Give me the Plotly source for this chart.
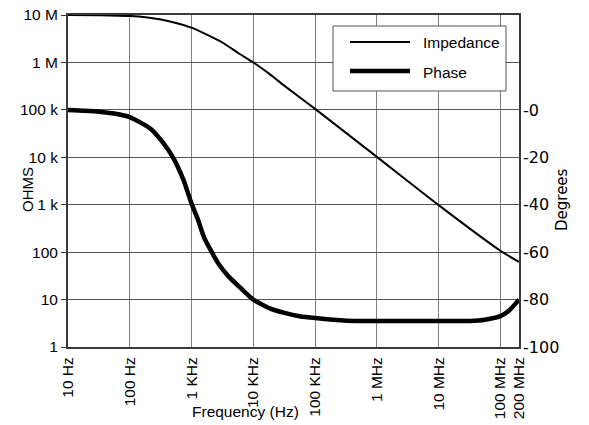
import plotly.graph_objects as go

# ---- data ----
imp_freq = [10, 32, 100, 180, 320, 560, 1000, 1800, 3200, 5600, 10000, 18000, 32000,
            1e5, 1e6, 1e7, 1e8, 2e8]
imp_ohms = [1e7, 9.9e6, 9.55e6, 9.0e6, 8.0e6, 6.8e6, 5.4e6, 3.8e6, 2.6e6, 1.6e6, 1.0e6,
            5.8e5, 3.2e5, 1.05e5, 1.02e4, 980, 107, 62]

ph_freq = [10, 18, 32, 56, 100, 215, 350, 500, 740, 1000, 1260, 1580, 2000, 2800, 4000,
           6300, 10000, 18000, 32000, 56000, 1e5, 3.2e5, 1e6, 1e7, 3.2e7, 5.6e7, 1e8, 1.4e8, 2e8]
ph_deg = [0, -0.3, -0.7, -1.5, -3, -7.8, -14, -20, -29.5, -39.5, -46, -53.5, -58.7, -65.3,
          -70.3, -75.2, -80, -83.6, -85.6, -87, -87.8, -88.9, -89, -89, -89, -88.5, -87, -84.5, -80]

x_tickvals = [10, 100, 1e3, 1e4, 1e5, 1e6, 1e7, 1e8, 2e8]
x_ticktext = ["10 Hz", "100 Hz", "1 KHz", "10 KHz", "100 KHz", "1 MHz", "10 MHz", "100 MHz", "200 MHz"]
y_tickvals = [1, 10, 100, 1e3, 1e4, 1e5, 1e6, 1e7]
y_ticktext = ["1", "10", "100", "1 k", "10 k", "100 k", "1 M", "10 M"]
y2_tickvals = [-100, -80, -60, -40, -20, 0]
y2_ticktext = ["-100", "-80", "-60", "-40", "-20", "-0"]
series_names = ["Impedance", "Phase"]

SANS = "Liberation Sans, Arial, sans-serif"
WIDE = "DejaVu Sans, Verdana, sans-serif"

fig = go.Figure()
fig.add_trace(go.Scatter(x=imp_freq, y=imp_ohms, mode="lines", name=series_names[0],
                         line=dict(color="black", width=2, shape="spline", smoothing=0.6),
                         showlegend=False))
fig.add_trace(go.Scatter(x=ph_freq, y=ph_deg, mode="lines", name=series_names[1], yaxis="y2",
                         line=dict(color="black", width=4.5, shape="spline", smoothing=0.5),
                         showlegend=False))

fig.update_layout(
    width=589, height=425,
    margin=dict(l=68, r=70, t=15, b=78),
    paper_bgcolor="white", plot_bgcolor="white",
    showlegend=False,
    font=dict(family=SANS, size=15.5, color="black"),
    xaxis=dict(type="log", range=[1, 8.30103], tickvals=x_tickvals, ticktext=x_ticktext,
               tickangle=-90, ticks="", showgrid=True, gridcolor="#808080", gridwidth=1,
               showline=True, linecolor="#3a3a3a", linewidth=2, mirror=True, zeroline=False,
               tickfont=dict(size=15.5, family=SANS), automargin=False, ticklabelstandoff=2),
    yaxis=dict(type="log", range=[0, 7], tickvals=y_tickvals, ticktext=y_ticktext,
               ticks="outside", ticklen=5, tickcolor="#3a3a3a", showgrid=True, gridcolor="#555",
               gridwidth=1, showline=True, linecolor="#3a3a3a", linewidth=2, mirror=True,
               zeroline=False, tickfont=dict(size=15.5, family=SANS), automargin=False,
               ticklabelstandoff=0),
    yaxis2=dict(overlaying="y", side="right", range=[-100, 40.08], tickvals=y2_tickvals,
                ticktext=y2_ticktext, ticks="", showgrid=False, zeroline=False,
                showline=False, tickfont=dict(size=16, family=WIDE), ticklabelstandoff=3,
                automargin=False),
)

def px2x(px):
    return (px - 68) / 451.0

def py2y(py):
    return (347 - py) / 332.0

annotations = [
    dict(text="OHMS", x=px2x(27), y=py2y(190), textangle=-90, font=dict(size=15, family=SANS)),
    dict(text="Degrees", x=px2x(562), y=py2y(200), textangle=-90, font=dict(size=15, family=WIDE)),
    dict(text="Frequency (Hz)", x=px2x(245), y=py2y(411), font=dict(size=15.5, family=SANS)),
    dict(text=series_names[0], x=px2x(421), y=py2y(42), xanchor="left", font=dict(size=15.5, family=SANS)),
    dict(text=series_names[1], x=px2x(421), y=py2y(72), xanchor="left", font=dict(size=15.5, family=SANS)),
]
for a in annotations:
    a.setdefault("xanchor", "center")
    fig.add_annotation(xref="paper", yref="paper", showarrow=False, yanchor="middle", **a)

shapes = [
    dict(type="rect", x0=px2x(333), x1=px2x(506), y0=py2y(26), y1=py2y(91),
         line=dict(color="#555", width=1), fillcolor="white", layer="above"),
    dict(type="line", x0=px2x(350), x1=px2x(410), y0=py2y(42), y1=py2y(42),
         line=dict(color="black", width=2), layer="above"),
    dict(type="line", x0=px2x(350), x1=px2x(410), y0=py2y(71), y1=py2y(71),
         line=dict(color="black", width=4.5), layer="above"),
]
for s in shapes:
    fig.add_shape(xref="paper", yref="paper", **s)

fig.write_html("out.html", config={"displayModeBar": False},
               post_script="document.body.style.margin='0';document.body.style.padding='0';")
